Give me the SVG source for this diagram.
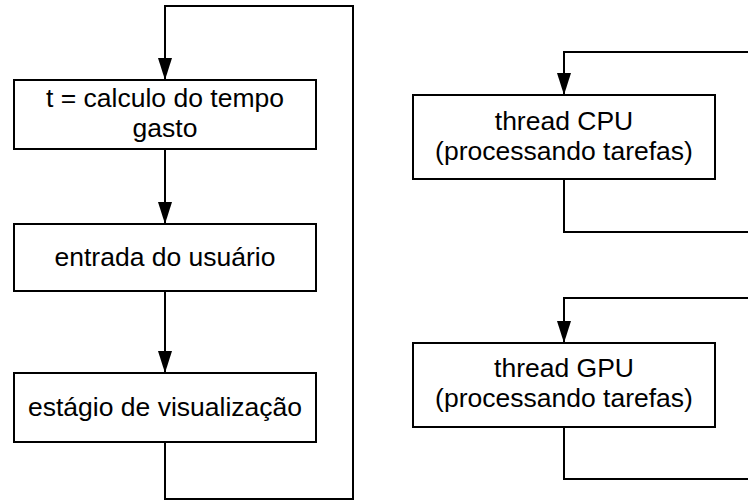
<svg xmlns="http://www.w3.org/2000/svg" width="748" height="501" viewBox="0 0 748 501">
  <style>
    .box { fill: #fff; stroke: #000; stroke-width: 2; }
    .wire { fill: none; stroke: #000; stroke-width: 2; }
    .label { font-family: "Liberation Sans", Arial, sans-serif; font-size: 26.5px; fill: #000; text-anchor: middle; }
  </style>
  <defs>
    <marker id="arrow" markerWidth="22" markerHeight="14" refX="22" refY="7" viewBox="0 0 22 14" markerUnits="userSpaceOnUse" orient="auto">
      <path d="M0,0 L22,7 L0,14 Z" fill="#000"/>
    </marker>
  </defs>

  <g id="connectors">
    <!-- main loop: return edge back to the top -->
    <path class="wire" d="M165,442 V499 H353 V6 H165 V80" marker-end="url(#arrow)"/>
    <path class="wire" d="M165,149 V224" marker-end="url(#arrow)"/>
    <path class="wire" d="M165,291 V373" marker-end="url(#arrow)"/>
    <!-- CPU thread loop -->
    <path class="wire" d="M564,179 V232 H749 M749,52 H564 V95" marker-end="url(#arrow)"/>
    <!-- GPU thread loop -->
    <path class="wire" d="M564,427 V479 H749 M749,298 H564 V343" marker-end="url(#arrow)"/>
  </g>

  <g id="tempo">
    <rect class="box" x="14" y="80" width="302" height="69"/>
    <text class="label" x="165" y="107">t = calculo do tempo</text>
    <text class="label" x="165" y="137">gasto</text>
  </g>
  <g id="entrada">
    <rect class="box" x="14" y="224" width="302" height="67"/>
    <text class="label" x="165" y="266">entrada do usuário</text>
  </g>
  <g id="visualizacao">
    <rect class="box" x="14" y="373" width="302" height="69"/>
    <text class="label" x="165" y="416">estágio de visualização</text>
  </g>
  <g id="cpu">
    <rect class="box" x="413" y="95" width="302" height="84"/>
    <text class="label" x="564" y="130">thread CPU</text>
    <text class="label" x="564" y="160">(processando tarefas)</text>
  </g>
  <g id="gpu">
    <rect class="box" x="413" y="343" width="302" height="84"/>
    <text class="label" x="564" y="377">thread GPU</text>
    <text class="label" x="564" y="407">(processando tarefas)</text>
  </g>
</svg>
